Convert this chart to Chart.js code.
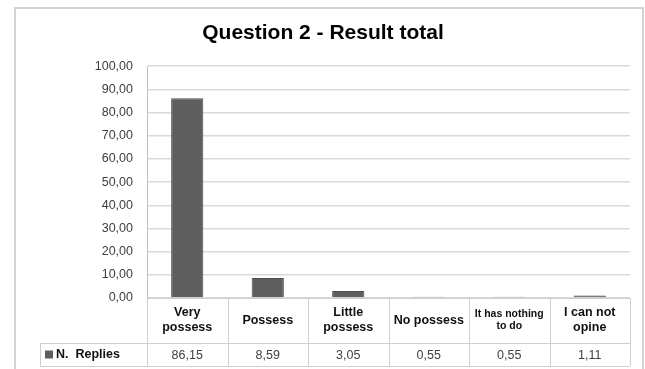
<!DOCTYPE html>
<html>
<head>
<meta charset="utf-8">
<script src="https://cdn.jsdelivr.net/npm/chart.js@4"></script>
<style>
  html, body { margin: 0; padding: 0; background: #fff; }
  #wrap { width: 645px; height: 369px; }
</style>
</head>
<body>
<div id="wrap"><canvas id="bar-chart" width="645" height="369"></canvas></div>
<script>
var categories = [['Very', 'possess'], 'Possess', ['Little', 'possess'], 'No possess', ['It has nothing', 'to do'], ['I can not', 'opine']];
var replies = [86.15, 8.59, 3.05, 0.55, 0.55, 1.11];
var seriesName = 'N.  Replies';
var yTicks = { min: 0, max: 100, step: 10 };

var BAR = '#5e5e5e';
var LINE = '#cfcfcf';

function comma(v) {
  return Number(v).toFixed(2).replace('.', ',');
}

// draws the frame and the data table under the bars
var tablePlugin = {
  id: 'dataTable',
  afterDraw: function(chart) {
    var ctx = chart.ctx;
    var x = chart.scales.x;
    var area = chart.chartArea;
    var n = categories.length;
    var w = (area.right - area.left) / n;
    var row1 = area.bottom + 45;
    var row2 = row1 + 23;

    ctx.save();
    // outer frame
    ctx.strokeStyle = '#d4d4d4';
    ctx.lineWidth = 2;
    ctx.strokeRect(15, 8, 628, 400);

    ctx.strokeStyle = LINE;
    ctx.lineWidth = 1;
    ctx.beginPath();
    ctx.moveTo(area.left, area.bottom + 0.5);
    ctx.lineTo(area.right, area.bottom + 0.5);
    ctx.moveTo(40, row1 + 0.5);
    ctx.lineTo(area.right, row1 + 0.5);
    ctx.moveTo(40, row2 + 0.5);
    ctx.lineTo(area.right, row2 + 0.5);
    ctx.moveTo(40.5, row1);
    ctx.lineTo(40.5, row2);
    for (var i = 0; i <= n; i++) {
      var xx = Math.round(area.left + i * w) + 0.5;
      ctx.moveTo(xx, area.bottom);
      ctx.lineTo(xx, row2);
    }
    ctx.stroke();

    ctx.textAlign = 'center';
    ctx.textBaseline = 'middle';
    for (var j = 0; j < n; j++) {
      var cx = x.getPixelForValue(j);
      var lab = categories[j];
      var lines = Array.isArray(lab) ? lab : [lab];
      var small = lab[0] === 'It has nothing';
      ctx.fillStyle = '#111';
      ctx.font = 'bold ' + (small ? 10.5 : 12.5) + 'px "Liberation Sans", Arial, sans-serif';
      var lh = small ? 12 : 15;
      var cy = (area.bottom + row1) / 2 - (lines.length - 1) * lh / 2;
      lines.forEach(function(t, k) { ctx.fillText(t, cx, cy + k * lh); });

      ctx.fillStyle = '#404040';
      ctx.font = '12.5px "Liberation Sans", Arial, sans-serif';
      ctx.fillText(comma(chart.data.datasets[0].data[j]), cx, (row1 + row2) / 2 + 1);
    }

    // series key
    var ky = (row1 + row2) / 2;
    ctx.fillStyle = BAR;
    ctx.fillRect(45, ky - 4, 8, 8);
    ctx.fillStyle = '#111';
    ctx.textAlign = 'left';
    ctx.font = 'bold 12.5px "Liberation Sans", Arial, sans-serif';
    ctx.fillText(seriesName, 56, ky);
    ctx.restore();
  }
};

new Chart(document.getElementById('bar-chart'), {
  type: 'bar',
  data: {
    labels: categories,
    datasets: [{
      label: seriesName,
      data: replies,
      backgroundColor: BAR,
      borderColor: '#4d4d4d',
      borderWidth: 1,
      categoryPercentage: 1,
      barPercentage: 0.4
    }]
  },
  options: {
    responsive: false,
    animation: false,
    layout: { padding: { left: 16, right: 15, top: 0, bottom: 0 } },
    plugins: {
      legend: { display: false },
      tooltip: { enabled: false },
      title: {
        display: true,
        text: 'Question 2 - Result total',
        color: '#000',
        font: { family: '"Liberation Sans", Arial, sans-serif', size: 21, weight: 'bold' },
        padding: { top: 21, bottom: 20 }
      }
    },
    scales: {
      x: {
        ticks: { display: false },
        grid: { display: false },
        border: { display: false },
        afterFit: function(s) { s.height = 71; }
      },
      y: {
        min: yTicks.min,
        max: yTicks.max,
        afterFit: function(s) { s.width = 131; },
        ticks: {
          stepSize: yTicks.step,
          padding: 14,
          color: '#404040',
          font: { family: '"Liberation Sans", Arial, sans-serif', size: 12.5 },
          callback: function(v) { return comma(v); }
        },
        grid: { color: '#d9d9d9', lineWidth: 1.5, drawTicks: false },
        border: { color: '#bfbfbf', width: 1 }
      }
    }
  },
  plugins: [tablePlugin]
});
</script>
</body>
</html>
